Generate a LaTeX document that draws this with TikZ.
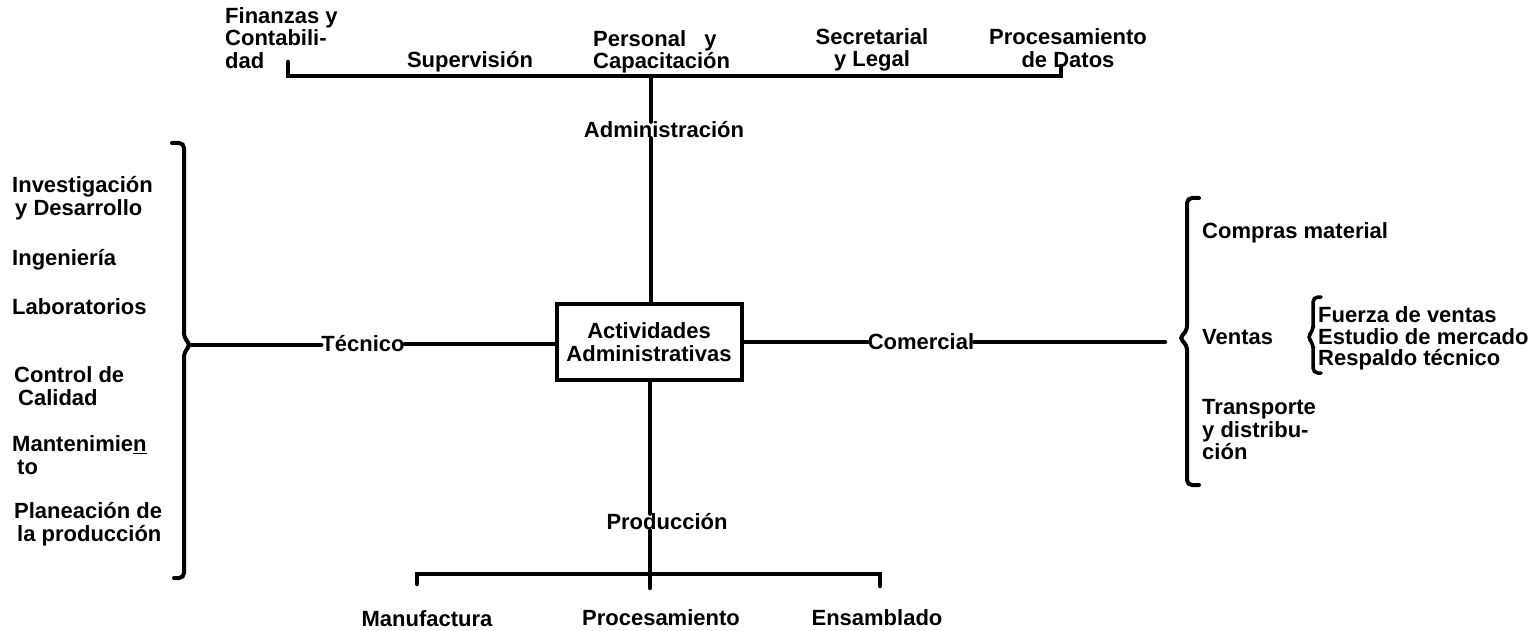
\documentclass[tikz,border=0pt]{standalone}
\usepackage{fontspec}
\setmainfont{Liberation Sans}
\begin{document}
\begin{tikzpicture}[x=1pt,y=-1pt,
  font=\fontsize{22}{22.5}\selectfont\bfseries,
  lbl/.style={inner sep=0pt, align=left},
  clbl/.style={inner sep=0pt, align=center},
  ln/.style={line width=4.5pt, line cap=round},
  brc/.style={line width=4pt, line cap=round, rounded corners=5pt}]
\useasboundingbox[fill=white] (0,0) rectangle (1540,631);

% central box
\node[draw, line width=4pt, minimum width=185pt, minimum height=76pt, clbl] (box) at (649,342) {Actividades\\[0pt]Administrativas};

% top labels
\node[lbl, anchor=west] (fin) at (225,38) {Finanzas y\\Contabili-\\dad};
\node[clbl] (sup) at (470,62) {Supervisión};
\node[lbl, anchor=west] (per) at (593,52) {Personal\ \ \ y\\Capacitación};
\node[clbl] (sec) at (872,50) {Secretarial\\y Legal};
\node[clbl] (pdat) at (1068,48) {Procesamiento\\de Datos};
\node[clbl] (adm) at (664,130) {Administración};

% left labels
\node[lbl, anchor=west] (inv) at (12,198) {Investigación\\\hspace{3pt}y Desarrollo};
\node[lbl, anchor=west] (ing) at (12,260) {Ingeniería};
\node[lbl, anchor=west] (lab) at (12,307) {Laboratorios};
\node[lbl, anchor=west] (con) at (14,386) {Control de\\\hspace{4pt}Calidad};
\node[lbl, anchor=west] (mant) at (12,455) {Mantenimie\underline{n}\\\hspace{5pt}to};
\node[lbl, anchor=west] (plan) at (14,524) {Planeación de\\\hspace{3pt}la producción};
\node[clbl] (tec) at (363,344) {Técnico};

% right labels
\node[clbl] (com) at (921,342) {Comercial};
\node[lbl, anchor=west] (cmp) at (1202,233) {Compras material};
\node[lbl, anchor=west] (ven) at (1202,337) {Ventas};
\node[lbl, anchor=west] (fue) at (1318,315) {Fuerza de ventas};
\node[lbl, anchor=west] (est) at (1318,337) {Estudio de mercado};
\node[lbl, anchor=west] (res) at (1318,360) {Respaldo técnico};
\node[lbl, anchor=west] (tra) at (1202,430) {Transporte\\y distribu-\\ción};

% bottom labels
\node[clbl] (prod) at (667,522) {Producción};
\node[clbl] (manu) at (427,619) {Manufactura};
\node[clbl] (proc) at (661,618) {Procesamiento};
\node[clbl] (ens) at (877,618) {Ensamblado};

% top bar
\coordinate (tlt) at (288,62);
\coordinate (tl) at (288,76);
\coordinate (tr) at (1061,76);
\coordinate (trt) at (1061,66);
\coordinate (tm) at (651,76);
\draw[ln] (tlt) -- (tl) -- (tr) -- (trt);
\draw[ln] (tm) -- (tm |- adm.north);
\draw[ln] (tm |- adm.south) -- (tm |- box.north);

% bottom bar
\coordinate (bl) at (417,574);
\coordinate (blt) at (417,584);
\coordinate (br) at (880,574);
\coordinate (brt) at (880,586);
\coordinate (bm) at (650,588);
\draw[ln] (box.south -| bm) -- (prod.north -| bm);
\draw[ln] (prod.south -| bm) -- (bm);
\draw[ln] (blt) -- (bl) -- (br) -- (brt);

% left brace
\coordinate (lbtip) at (191,345);
\draw[brc] (172,143) -- (184,143) -- (184,338) -- (lbtip) -- (184,352) -- (184,578) -- (174,578);
\draw[ln] (lbtip) -- (tec.west |- lbtip);
\draw[ln] (tec.east) -- (box.west |- tec.east);

% right side
\coordinate (rbtip) at (1179,338);
\coordinate (rend) at (1165,342);
\draw[ln] (box.east) -- (com.west);
\draw[ln] (com.east) -- (rend);
\draw[brc] (1199,198) -- (1187,198) -- (1187,331) -- (rbtip) -- (1187,345) -- (1187,485) -- (1199,485);
\draw[brc, line width=3.5pt] (1321,297) -- (1313,297) -- (1313,331) -- (1307,337) -- (1313,343) -- (1313,373) -- (1321,373);
\end{tikzpicture}
\end{document}
